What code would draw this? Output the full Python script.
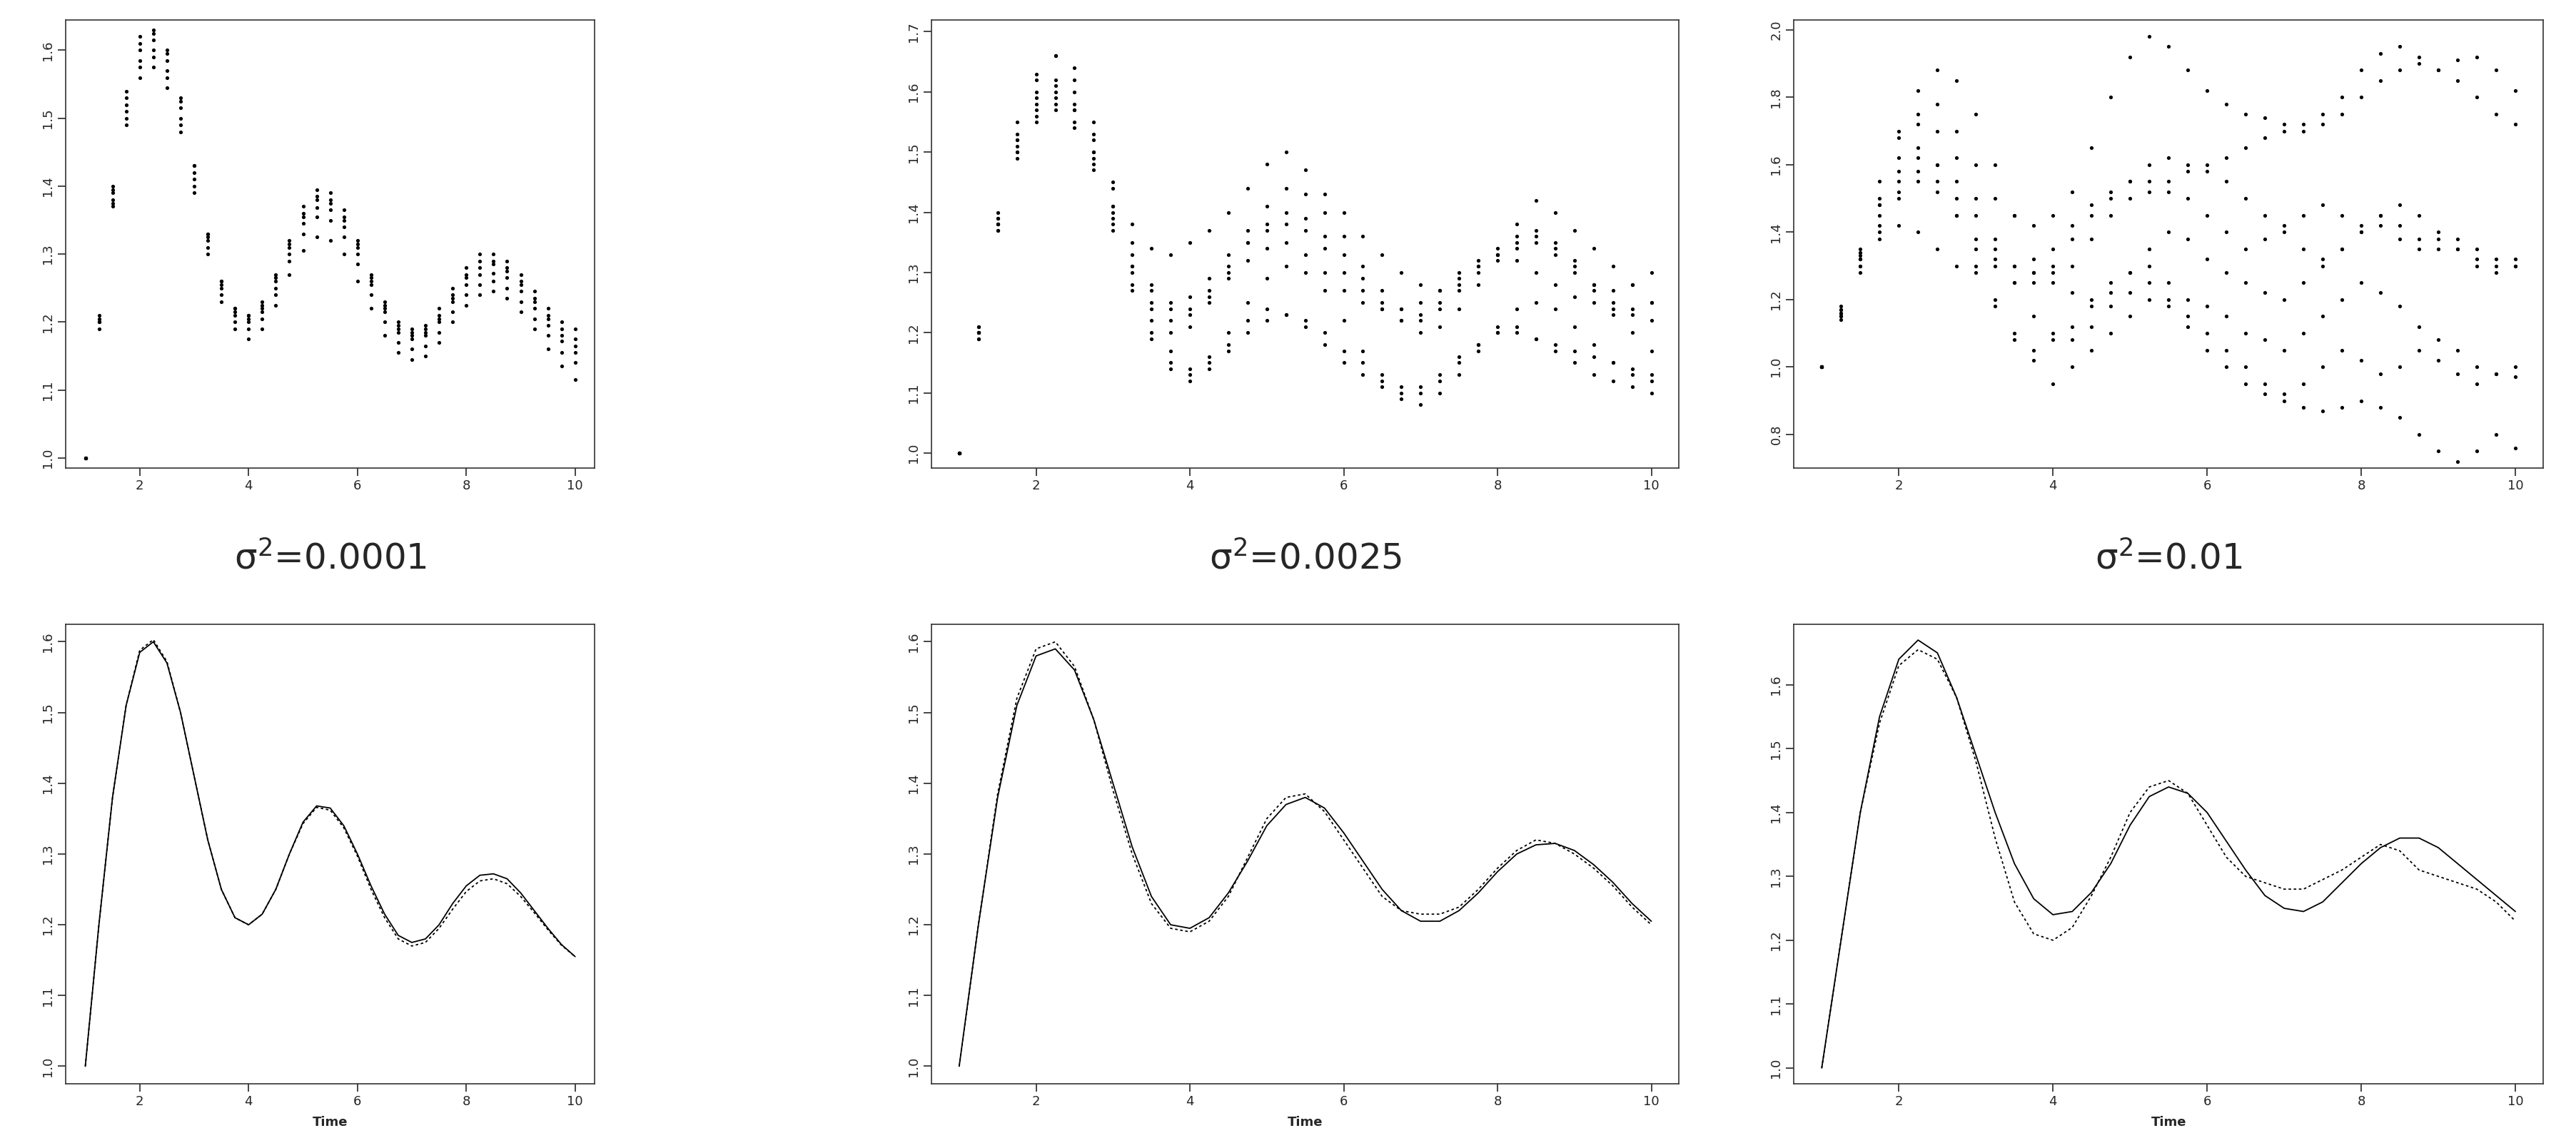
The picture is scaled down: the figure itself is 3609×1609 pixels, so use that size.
import numpy as np, pandas as pd, matplotlib
matplotlib.use("Agg")
import matplotlib.pyplot as plt, seaborn as sns

t = [1+0.25*i for i in range(37)]
titles = ["σ$^2$=0.0001", "σ$^2$=0.0025", "σ$^2$=0.01"]

top1 = [
[1.00,1.21,1.40,1.54,1.62,1.63,1.60,1.53,1.43,1.33,1.26,1.22,1.21,1.23,1.27,1.32,1.37,1.395,1.39,1.365,1.32,1.27,1.23,1.20,1.19,1.195,1.22,1.25,1.28,1.30,1.30,1.29,1.27,1.245,1.22,1.20,1.19],
[1.00,1.20,1.39,1.52,1.60,1.615,1.585,1.515,1.42,1.325,1.255,1.215,1.205,1.22,1.26,1.31,1.355,1.38,1.375,1.35,1.31,1.26,1.22,1.19,1.18,1.185,1.205,1.235,1.265,1.28,1.285,1.275,1.255,1.23,1.205,1.18,1.165],
[1.00,1.20,1.38,1.51,1.585,1.60,1.57,1.50,1.41,1.32,1.25,1.21,1.20,1.215,1.25,1.30,1.345,1.368,1.365,1.34,1.30,1.255,1.215,1.185,1.175,1.18,1.20,1.23,1.255,1.27,1.272,1.265,1.245,1.22,1.195,1.172,1.155],
[1.00,1.20,1.375,1.50,1.575,1.59,1.56,1.49,1.40,1.31,1.24,1.20,1.19,1.205,1.24,1.29,1.33,1.355,1.35,1.325,1.285,1.24,1.20,1.17,1.16,1.165,1.185,1.215,1.24,1.255,1.26,1.25,1.23,1.205,1.18,1.155,1.14],
[1.00,1.19,1.37,1.49,1.56,1.575,1.545,1.48,1.39,1.30,1.23,1.19,1.175,1.19,1.225,1.27,1.305,1.325,1.32,1.30,1.26,1.22,1.18,1.155,1.145,1.15,1.17,1.20,1.225,1.24,1.245,1.235,1.215,1.19,1.16,1.135,1.115],
[1.00,1.205,1.395,1.53,1.61,1.625,1.595,1.525,1.43,1.33,1.26,1.22,1.21,1.225,1.265,1.315,1.36,1.385,1.38,1.355,1.315,1.265,1.225,1.195,1.185,1.19,1.21,1.24,1.27,1.29,1.29,1.28,1.26,1.235,1.21,1.19,1.175],
]
top2 = [
[1.00,1.20,1.38,1.52,1.62,1.66,1.64,1.55,1.45,1.38,1.34,1.33,1.35,1.37,1.40,1.44,1.48,1.50,1.47,1.43,1.40,1.36,1.33,1.30,1.28,1.27,1.29,1.31,1.34,1.38,1.42,1.40,1.37,1.34,1.31,1.28,1.25],
[1.00,1.19,1.37,1.50,1.58,1.60,1.57,1.49,1.39,1.30,1.22,1.17,1.14,1.15,1.18,1.22,1.24,1.23,1.22,1.20,1.17,1.15,1.13,1.11,1.10,1.12,1.15,1.18,1.20,1.21,1.19,1.17,1.15,1.13,1.12,1.11,1.10],
[1.00,1.21,1.40,1.55,1.63,1.66,1.62,1.52,1.41,1.31,1.24,1.20,1.21,1.25,1.30,1.35,1.38,1.40,1.39,1.36,1.33,1.29,1.25,1.22,1.20,1.21,1.24,1.28,1.32,1.35,1.36,1.34,1.31,1.27,1.23,1.20,1.17],
[1.00,1.20,1.38,1.50,1.56,1.58,1.55,1.48,1.38,1.28,1.20,1.15,1.13,1.16,1.20,1.25,1.29,1.31,1.30,1.27,1.22,1.17,1.12,1.09,1.08,1.10,1.13,1.17,1.21,1.24,1.25,1.24,1.21,1.18,1.15,1.13,1.12],
[1.00,1.20,1.39,1.53,1.60,1.62,1.60,1.53,1.44,1.35,1.28,1.25,1.26,1.29,1.33,1.37,1.41,1.44,1.43,1.40,1.36,1.31,1.27,1.24,1.23,1.25,1.28,1.31,1.33,1.34,1.35,1.33,1.30,1.28,1.27,1.28,1.30],
[1.00,1.19,1.37,1.49,1.55,1.57,1.54,1.47,1.37,1.27,1.19,1.14,1.12,1.14,1.17,1.20,1.22,1.23,1.21,1.18,1.15,1.13,1.11,1.10,1.11,1.13,1.16,1.18,1.20,1.20,1.19,1.18,1.17,1.16,1.15,1.14,1.13],
[1.00,1.21,1.39,1.52,1.59,1.61,1.58,1.50,1.40,1.31,1.25,1.22,1.23,1.27,1.31,1.35,1.37,1.38,1.37,1.34,1.30,1.27,1.24,1.22,1.22,1.24,1.27,1.30,1.33,1.36,1.37,1.35,1.32,1.28,1.25,1.23,1.22],
[1.00,1.20,1.38,1.51,1.57,1.59,1.57,1.50,1.41,1.33,1.27,1.24,1.24,1.26,1.29,1.32,1.34,1.35,1.33,1.30,1.27,1.25,1.24,1.24,1.25,1.27,1.30,1.32,1.33,1.32,1.30,1.28,1.26,1.25,1.24,1.24,1.25],
]
top3 = [
[1.00,1.18,1.35,1.55,1.70,1.75,1.78,1.70,1.60,1.50,1.45,1.42,1.45,1.52,1.65,1.80,1.92,1.98,1.95,1.88,1.82,1.78,1.75,1.74,1.72,1.70,1.72,1.75,1.80,1.85,1.88,1.90,1.88,1.91,1.92,1.88,1.82],
[1.00,1.15,1.32,1.50,1.68,1.82,1.88,1.85,1.75,1.60,1.45,1.32,1.28,1.30,1.38,1.45,1.50,1.52,1.55,1.58,1.60,1.62,1.65,1.68,1.70,1.72,1.75,1.80,1.88,1.93,1.95,1.92,1.88,1.85,1.80,1.75,1.72],
[1.00,1.17,1.33,1.45,1.52,1.55,1.52,1.45,1.38,1.30,1.25,1.28,1.35,1.42,1.48,1.52,1.55,1.55,1.52,1.50,1.45,1.40,1.35,1.38,1.42,1.45,1.48,1.45,1.42,1.45,1.48,1.45,1.40,1.35,1.32,1.30,1.32],
[1.00,1.16,1.30,1.38,1.42,1.40,1.35,1.30,1.28,1.32,1.30,1.25,1.30,1.38,1.45,1.50,1.55,1.60,1.62,1.60,1.58,1.55,1.50,1.45,1.40,1.35,1.32,1.35,1.40,1.42,1.38,1.35,1.38,1.35,1.30,1.28,1.30],
[1.00,1.14,1.28,1.40,1.50,1.58,1.55,1.45,1.30,1.18,1.08,1.02,0.95,1.00,1.05,1.10,1.15,1.20,1.18,1.12,1.05,1.00,0.95,0.92,0.90,0.88,0.87,0.88,0.90,0.88,0.85,0.80,0.75,0.72,0.75,0.80,0.76],
[1.00,1.16,1.32,1.48,1.62,1.72,1.70,1.62,1.50,1.38,1.25,1.15,1.10,1.08,1.12,1.18,1.22,1.25,1.20,1.15,1.10,1.05,1.00,0.95,0.92,0.95,1.00,1.05,1.02,0.98,1.00,1.05,1.02,0.98,0.95,0.98,1.00],
[1.00,1.15,1.30,1.42,1.55,1.65,1.60,1.50,1.35,1.20,1.10,1.05,1.08,1.12,1.18,1.25,1.28,1.30,1.25,1.20,1.18,1.15,1.10,1.08,1.05,1.10,1.15,1.20,1.25,1.22,1.18,1.12,1.08,1.05,1.00,0.98,0.97],
[1.00,1.17,1.34,1.48,1.58,1.62,1.60,1.55,1.45,1.35,1.30,1.28,1.25,1.22,1.20,1.22,1.28,1.35,1.40,1.38,1.32,1.28,1.25,1.22,1.20,1.25,1.30,1.35,1.40,1.45,1.42,1.38,1.35,1.38,1.35,1.32,1.30],
]
bot1_solid = [1.00,1.20,1.38,1.51,1.585,1.60,1.57,1.50,1.41,1.32,1.25,1.21,1.20,1.215,1.25,1.30,1.345,1.368,1.365,1.34,1.30,1.255,1.215,1.185,1.175,1.18,1.20,1.23,1.255,1.27,1.272,1.265,1.245,1.22,1.195,1.172,1.155]
bot1_dash  = [1.00,1.20,1.38,1.51,1.588,1.603,1.572,1.50,1.41,1.32,1.25,1.21,1.20,1.215,1.25,1.30,1.343,1.366,1.362,1.337,1.297,1.25,1.21,1.18,1.17,1.175,1.195,1.222,1.247,1.262,1.265,1.258,1.24,1.217,1.193,1.171,1.155]
bot2_solid = [1.00,1.20,1.38,1.51,1.58,1.59,1.56,1.49,1.40,1.31,1.24,1.20,1.195,1.21,1.245,1.29,1.34,1.37,1.38,1.365,1.33,1.29,1.25,1.22,1.205,1.205,1.22,1.245,1.275,1.30,1.313,1.315,1.305,1.285,1.26,1.23,1.205]
bot2_dash  = [1.00,1.20,1.385,1.52,1.59,1.60,1.565,1.49,1.39,1.30,1.23,1.195,1.19,1.205,1.24,1.295,1.35,1.38,1.385,1.36,1.32,1.28,1.24,1.22,1.215,1.215,1.225,1.25,1.28,1.305,1.32,1.315,1.30,1.28,1.255,1.225,1.20]
bot3_solid = [1.00,1.20,1.40,1.55,1.64,1.67,1.65,1.58,1.49,1.40,1.32,1.265,1.24,1.245,1.275,1.32,1.38,1.425,1.44,1.43,1.40,1.355,1.31,1.27,1.25,1.245,1.26,1.29,1.32,1.345,1.36,1.36,1.345,1.32,1.295,1.27,1.245]
bot3_dash  = [1.00,1.20,1.40,1.54,1.63,1.655,1.64,1.58,1.48,1.36,1.26,1.21,1.20,1.22,1.27,1.33,1.40,1.44,1.45,1.43,1.38,1.33,1.30,1.29,1.28,1.28,1.295,1.31,1.33,1.35,1.34,1.31,1.30,1.29,1.28,1.26,1.23]

tops = [top1, top2, top3]
bots = [(bot1_solid, bot1_dash), (bot2_solid, bot2_dash), (bot3_solid, bot3_dash)]
top_ylim = [(0.985, 1.645), (0.975, 1.72), (0.7, 2.03)]
top_ticks = [np.arange(1.0, 1.61, 0.1), np.arange(1.0, 1.71, 0.1), np.arange(0.8, 2.01, 0.2)]
bot_ylim = [(0.975, 1.625), (0.975, 1.625), (0.975, 1.695)]

sns.set_style("white")
plt.rcParams['font.family'] = ['DejaVu Sans']
W, H = 1568, 699
fig = plt.figure(figsize=(36.09, 16.09), dpi=100)
cols = [(40, 362), (567, 1022), (1092, 1548)]

def rect(x0, x1, y0, y1):
    return [x0/W, 1-y1/H, (x1-x0)/W, (y1-y0)/H]

def style(ax, ylim, ticks):
    ax.set_xlim(0.64, 10.36); ax.set_ylim(*ylim)
    ax.set_xticks([2, 4, 6, 8, 10]); ax.set_yticks(ticks)
    ax.set_yticklabels([f"{v:.1f}" for v in ticks], rotation=90, va='center')
    ax.tick_params(direction='out', length=8, width=1.2, labelsize=13, left=True, bottom=True)
    for s in ax.spines.values():
        s.set_color('#333'); s.set_linewidth(1.2)
    ax.set_xlabel(""); ax.set_ylabel("")

for i in range(3):
    x0, x1 = cols[i]
    ax = fig.add_axes(rect(x0, x1, 12, 285))
    df = pd.DataFrame([(tt, v, k) for k, p in enumerate(tops[i]) for tt, v in zip(t, p)], columns=['t', 'y', 'path'])
    sns.scatterplot(data=df, x='t', y='y', ax=ax, color='black', s=14, marker='o', linewidth=0, legend=False)
    style(ax, top_ylim[i], top_ticks[i])
    fig.text((x0+x1)/2/W, 1-340/H, titles[i], ha='center', va='center', fontsize=36)

    ax = fig.add_axes(rect(x0, x1, 380, 660))
    s, d = bots[i]
    sns.lineplot(x=t, y=s, ax=ax, color='black', linewidth=1.3)
    sns.lineplot(x=t, y=d, ax=ax, color='black', linewidth=1.3, linestyle=(0, (2, 2)))
    style(ax, bot_ylim[i], np.arange(1.0, 1.61, 0.1))
    ax.set_xlabel("Time", fontsize=13, fontweight='bold', labelpad=8)

fig.savefig("out.png", dpi=100)
